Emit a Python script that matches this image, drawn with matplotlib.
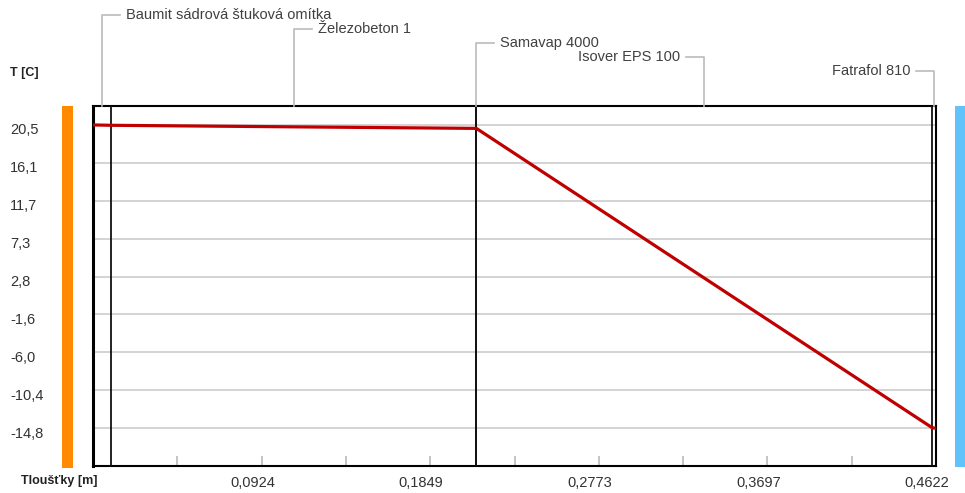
import matplotlib
matplotlib.use("Agg")
import matplotlib.pyplot as plt
import matplotlib.transforms as mtransforms
from matplotlib.lines import Line2D
import numpy as np

plt.rcParams['font.family'] = ['Liberation Sans', 'DejaVu Sans']

# Wall composition (interior -> exterior)
layer_names = ["Baumit sádrová štuková omítka", "Železobeton 1", "Samavap 4000",
               "Isover EPS 100", "Fatrafol 810"]
layer_thickness = [0.01, 0.20, 0.0002, 0.25, 0.002]   # m

# Temperature at the surfaces and layer interfaces [°C]
interface_temp = [20.5, 20.46, 20.1, 20.1, -14.77, -14.8]

# Axis tick texts
y_tick_labels = ["20,5", "16,1", "11,7", "7,3", "2,8", "-1,6", "-6,0", "-10,4", "-14,8"]
x_tick_labels = ["0,0924", "0,1849", "0,2773", "0,3697", "0,4622"]

W, H = 965, 493
fig = plt.figure(figsize=(W / 100, H / 100), dpi=100)
fig.patch.set_facecolor("white")

def fx(px):
    return px / W

def fy(py):
    return 1 - py / H

ax = fig.add_axes([fx(93), fy(466), fx(936) - fx(93), fy(106) - fy(466)])

bounds = np.concatenate([[0.0], np.cumsum(layer_thickness)])
total = bounds[-1]

# temperature profile
ax.plot(bounds, interface_temp, color="#c00000", lw=2.3, solid_joinstyle="round", zorder=5)

# y axis: evenly spaced ticks between max and min temperature
tmax, tmin = max(interface_temp), min(interface_temp)
yticks = np.linspace(tmax, tmin, len(y_tick_labels))
step = yticks[0] - yticks[1]
ax.set_ylim(tmin - step, tmax + 0.5 * step)
ax.set_xlim(0, total)
ax.set_yticks(yticks)
ax.set_yticklabels(y_tick_labels)
ax.yaxis.grid(True, color="#cccccc", lw=1.2, zorder=0)
ax.tick_params(axis="y", length=0, pad=59.8, labelsize=10.5, labelcolor="#333333")
for lab in ax.get_yticklabels():
    lab.set_horizontalalignment("left")
    lab.set_transform(lab.get_transform() +
                      mtransforms.ScaledTranslation(0, -4 / 100, fig.dpi_scale_trans))

# x axis: ten divisions, every second labelled
xticks = np.linspace(0, total, 11)
ax.set_xticks(xticks)
labels = [""] * len(xticks)
for i, t in enumerate(x_tick_labels):
    labels[2 * (i + 1)] = t
ax.set_xticklabels(labels)
ax.tick_params(axis="x", direction="in", length=7.5, width=1.2, color="#bbbbbb",
               pad=7, labelsize=10.5, labelcolor="#333333")
for lab in ax.get_xticklabels():
    lab.set_transform(lab.get_transform() +
                      mtransforms.ScaledTranslation(-9 / 100, 0, fig.dpi_scale_trans))

for side, sp in ax.spines.items():
    sp.set_color("black")
    sp.set_linewidth(1.5)
ax.spines["left"].set_linewidth(2.2)

# layer boundaries
for b in bounds[1:-1]:
    ax.axvline(b, color="#111111", lw=1.3, zorder=4)

# leader lines with layer names
mids = (bounds[:-1] + bounds[1:]) / 2
fig.canvas.draw()
levels = [15, 29, 43, 57, 71]
sides = ["right", "right", "right", "left", "left"]
for name, m, lev, side in zip(layer_names, mids, levels, sides):
    xp = ax.transData.transform((m, 0))[0]
    x_end = xp + 18 if side == "right" else xp - 18
    fig.add_artist(Line2D([fx(xp), fx(xp), fx(x_end)], [fy(106), fy(lev), fy(lev)],
                          transform=fig.transFigure, color="#bbbbbb", lw=1.2))
    if side == "right":
        fig.text(fx(x_end + 6), fy(lev), name, ha="left", va="center",
                 fontsize=10.5, color="#404040")
    else:
        fig.text(fx(x_end - 6), fy(lev), name, ha="right", va="center",
                 fontsize=10.5, color="#404040")

# interior / exterior colour bars
fig.add_artist(plt.Rectangle((fx(62), fy(468)), fx(73) - fx(62), fy(106) - fy(468),
                             transform=fig.transFigure, color="#ff8a00", lw=0))
fig.add_artist(plt.Rectangle((fx(955), fy(467)), fx(966) - fx(955), fy(106) - fy(467),
                             transform=fig.transFigure, color="#62c3fb", lw=0))

fig.text(fx(10), fy(73), "T [C]", ha="left", va="center", fontsize=9,
         fontweight="bold", color="#222222")
fig.text(fx(21), fy(481), "Tloušťky [m]", ha="left", va="center", fontsize=9,
         fontweight="bold", color="#222222")

fig.savefig("out.png", dpi=100, facecolor="white")
